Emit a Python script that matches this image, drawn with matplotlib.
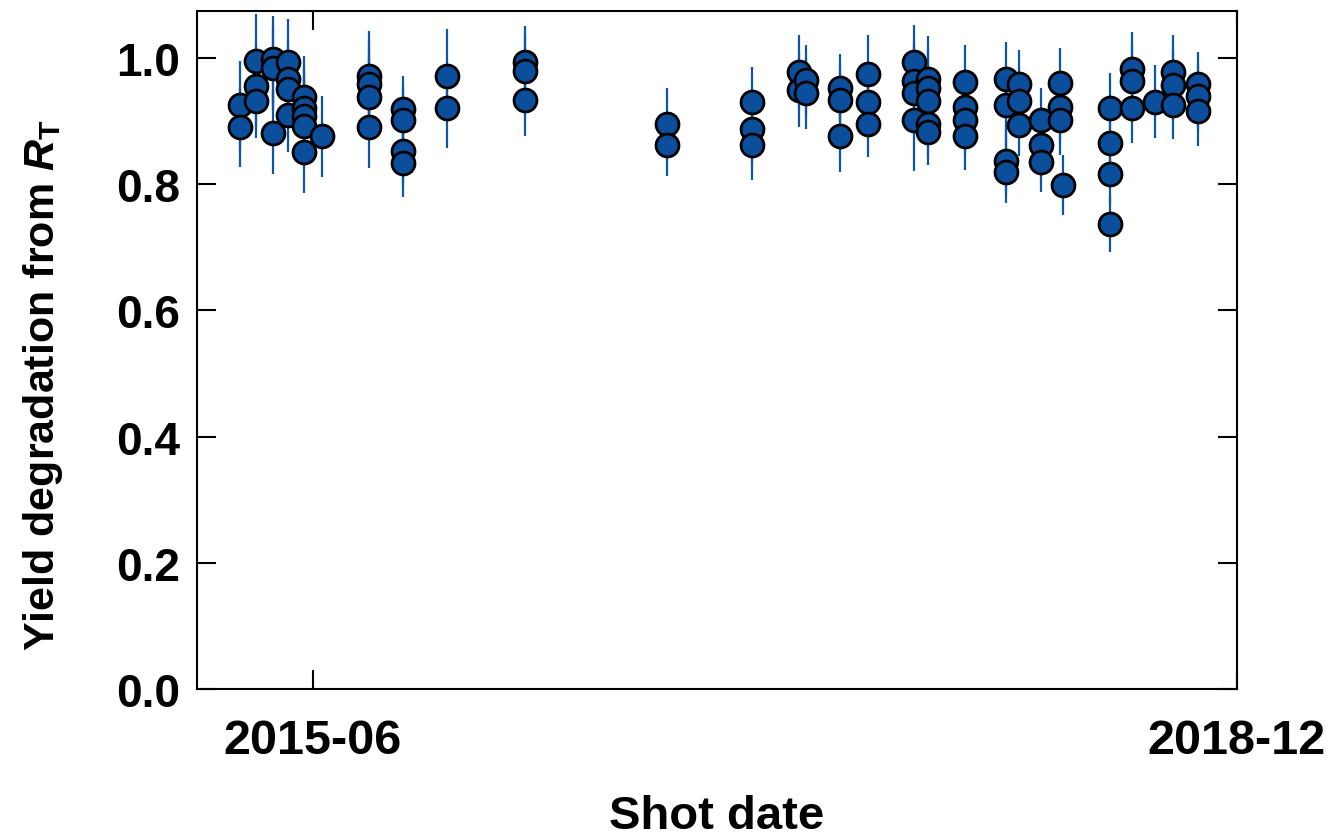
import datetime as dt
import matplotlib
matplotlib.use("Agg")
import matplotlib.pyplot as plt
import matplotlib.dates as mdates

# shot dates (one entry per shot), yield degradation and its 1-sigma error
shot_dates = [
    "2015-02-20", "2015-02-20",
    "2015-03-14", "2015-03-14", "2015-03-14",
    "2015-04-07", "2015-04-07", "2015-04-07",
    "2015-04-27", "2015-04-27", "2015-04-27", "2015-04-27",
    "2015-05-20", "2015-05-20", "2015-05-20", "2015-05-20", "2015-05-20",
    "2015-06-13",
    "2015-08-18", "2015-08-18", "2015-08-18", "2015-08-18",
    "2015-10-04", "2015-10-04", "2015-10-04", "2015-10-04",
    "2015-12-04", "2015-12-04",
    "2016-03-21", "2016-03-21", "2016-03-21",
    "2016-10-03", "2016-10-03",
    "2017-01-29", "2017-01-29", "2017-01-29",
    "2017-04-04", "2017-04-04",
    "2017-04-13", "2017-04-13",
    "2017-05-31", "2017-05-31", "2017-05-31",
    "2017-07-09", "2017-07-09", "2017-07-09",
    "2017-09-10", "2017-09-10", "2017-09-10", "2017-09-10",
    "2017-09-30", "2017-09-30", "2017-09-30", "2017-09-30", "2017-09-30",
    "2017-11-20", "2017-11-20", "2017-11-20", "2017-11-20",
    "2018-01-15", "2018-01-15", "2018-01-15", "2018-01-15",
    "2018-02-03", "2018-02-03", "2018-02-03",
    "2018-03-05", "2018-03-05", "2018-03-05",
    "2018-03-31", "2018-03-31", "2018-03-31",
    "2018-04-04",
    "2018-06-08", "2018-06-08", "2018-06-08", "2018-06-08",
    "2018-07-09", "2018-07-09", "2018-07-09",
    "2018-08-09",
    "2018-09-03", "2018-09-03", "2018-09-03",
    "2018-10-08", "2018-10-08", "2018-10-08",
]
yield_deg = [
    0.925, 0.890,
    0.996, 0.956, 0.932,
    0.998, 0.984, 0.881,
    0.993, 0.966, 0.951, 0.910,
    0.938, 0.921, 0.908, 0.893, 0.851,
    0.876,
    0.972, 0.959, 0.938, 0.891,
    0.919, 0.902, 0.852, 0.834,
    0.972, 0.920,
    0.994, 0.980, 0.933,
    0.895, 0.862,
    0.931, 0.888, 0.862,
    0.977, 0.949,
    0.965, 0.944,
    0.953, 0.933, 0.876,
    0.975, 0.931, 0.895,
    0.993, 0.964, 0.944, 0.902,
    0.967, 0.953, 0.932, 0.895, 0.882,
    0.962, 0.922, 0.901, 0.876,
    0.967, 0.925, 0.837, 0.820,
    0.959, 0.932, 0.894,
    0.901, 0.862, 0.835,
    0.961, 0.922, 0.902,
    0.799,
    0.920, 0.865, 0.816, 0.737,
    0.983, 0.964, 0.920,
    0.931,
    0.977, 0.957, 0.925,
    0.959, 0.939, 0.916,
]
yield_err = [
    0.070, 0.063,
    0.074, 0.065, 0.059,
    0.069, 0.066, 0.065,
    0.068, 0.062, 0.060, 0.059,
    0.065, 0.065, 0.065, 0.065, 0.065,
    0.064,
    0.070, 0.068, 0.066, 0.066,
    0.052, 0.054, 0.055, 0.055,
    0.074, 0.063,
    0.057, 0.057, 0.057,
    0.057, 0.049,
    0.054, 0.055, 0.056,
    0.059, 0.059,
    0.056, 0.057,
    0.053, 0.055, 0.056,
    0.061, 0.055, 0.052,
    0.059, 0.062, 0.065, 0.081,
    0.068, 0.060, 0.055, 0.052, 0.051,
    0.058, 0.055, 0.053, 0.053,
    0.059, 0.055, 0.052, 0.050,
    0.054, 0.052, 0.050,
    0.052, 0.050, 0.048,
    0.055, 0.055, 0.055,
    0.048,
    0.056, 0.050, 0.048, 0.045,
    0.058, 0.056, 0.055,
    0.058,
    0.060, 0.056, 0.053,
    0.051, 0.053, 0.055,
]

x_ticks = ["2015-06-01", "2018-12-01"]
y_ticks = [0.0, 0.2, 0.4, 0.6, 0.8, 1.0]

plt.rcParams["font.family"] = ["Liberation Sans", "DejaVu Sans"]
plt.rcParams["font.weight"] = "bold"
plt.rcParams["mathtext.fontset"] = "custom"
plt.rcParams["mathtext.rm"] = "Liberation Sans:bold"
plt.rcParams["mathtext.it"] = "Liberation Sans:italic:bold"
plt.rcParams["mathtext.bf"] = "Liberation Sans:bold"

dates = [dt.datetime.strptime(d, "%Y-%m-%d") for d in shot_dates]

fig = plt.figure(figsize=(13.3, 8.37), dpi=100)
ax = fig.add_axes([0.148, 0.1756, 0.782, 0.8101])

# error bars first so every marker sits on top of them
ax.errorbar(dates, yield_deg, yerr=yield_err, fmt="none",
            ecolor="#0d55a5", elinewidth=1.6, capsize=0, zorder=1)
ax.plot(dates, yield_deg, "o", ls="none", ms=16.5, mfc="#0b4f9c",
        mec="black", mew=2.0, zorder=2)

ax.set_xlim(dt.datetime(2014, 12, 22, 10), dt.datetime(2018, 12, 1))
ax.set_ylim(0, 1.0745)

ax.set_xticks([dt.datetime.strptime(d, "%Y-%m-%d") for d in x_ticks])
ax.xaxis.set_major_formatter(mdates.DateFormatter("%Y-%m"))
ax.set_yticks(y_ticks)
ax.set_yticklabels([f"{v:.1f}" for v in y_ticks])

ax.tick_params(direction="in", length=14, width=1.5, top=True, right=True)
ax.tick_params(axis="x", pad=21, labelsize=35)
ax.tick_params(axis="y", pad=12, labelsize=33)

for s in ax.spines.values():
    s.set_linewidth(1.5)

ax.set_xlabel("Shot date", fontsize=34, fontweight="bold")
ax.set_ylabel(r"Yield degradation from $R_\mathrm{T}$", fontsize=31,
              fontweight="bold")
ax.xaxis.set_label_coords(0.5, -0.155)
ax.yaxis.set_label_coords(-0.127, 0.45)

fig.savefig("out.png", dpi=100)
